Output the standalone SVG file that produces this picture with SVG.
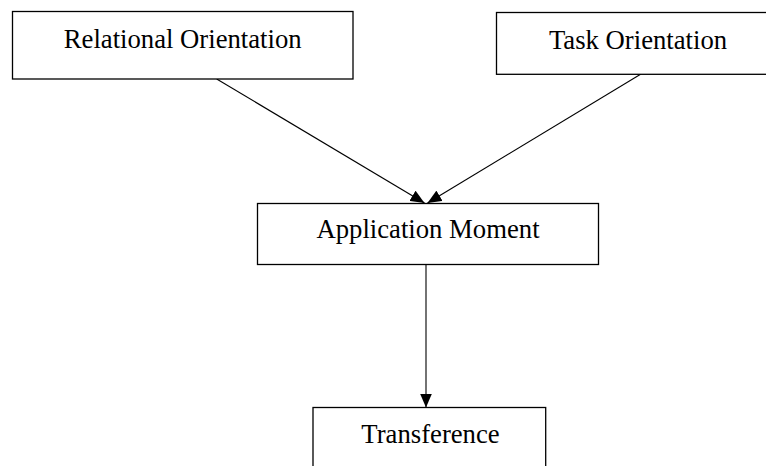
<svg xmlns="http://www.w3.org/2000/svg" width="766" height="466" viewBox="0 0 766 466">
<style>
.box{fill:#fff;stroke:#000;stroke-width:1.3}
.lbl{font-family:"Liberation Serif","Times New Roman",serif;font-size:26.7px;fill:#000;text-anchor:middle}
.edge{stroke:#000;stroke-width:1.1;fill:none}
</style>
<defs>
<marker id="ah" viewBox="0 0 14 12" refX="14" refY="6" markerWidth="14" markerHeight="12" markerUnits="userSpaceOnUse" orient="auto">
<path d="M0,0 L14,6 L0,12 Z" fill="#000"/>
</marker>
</defs>
<rect width="766" height="466" fill="#fff"/>
<g id="connectors">
<line class="edge" x1="216.7" y1="79" x2="424.5" y2="203" marker-end="url(#ah)"/>
<line class="edge" x1="641" y1="74" x2="427.5" y2="203" marker-end="url(#ah)"/>
<line class="edge" x1="426" y1="264.5" x2="426" y2="407.5" marker-end="url(#ah)"/>
</g>
<g id="relational">
<rect class="box" x="12.5" y="11.5" width="340.5" height="67.5"/>
<text class="lbl" x="182.7" y="48.3">Relational Orientation</text>
</g>
<g id="task">
<rect class="box" x="496.5" y="12.5" width="283" height="61.8"/>
<text class="lbl" x="638" y="49.3">Task Orientation</text>
</g>
<g id="application">
<rect class="box" x="257.5" y="203.5" width="341" height="61"/>
<text class="lbl" x="428" y="238.3">Application Moment</text>
</g>
<g id="transference">
<rect class="box" x="313" y="407.5" width="232.7" height="80"/>
<text class="lbl" x="430.5" y="443.3">Transference</text>
</g>
</svg>
